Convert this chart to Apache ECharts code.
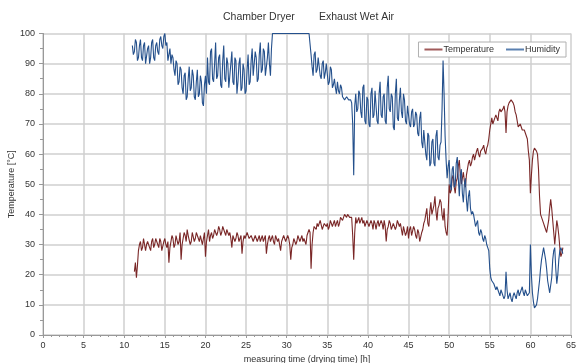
<!DOCTYPE html>
<html>
<head>
<meta charset="utf-8">
<script src="https://cdn.jsdelivr.net/npm/echarts@6/dist/echarts.min.js"></script>
<style>
html,body{margin:0;padding:0;background:#fff;}
#chart{width:576px;height:363px;}
</style>
</head>
<body>
<div id="chart"></div>
<script>
// sampling grid of the measurement (hours): 8 readings per hour from 11.0 h
const startHour = 11;
const stepHours = 0.125;

const titleLeft = "Chamber Dryer";
const titleRight = "Exhaust Wet Air";
const xAxisName = "measuring time (drying time) [h]";
const yAxisName = "Temperature [°C]";
const seriesNames = ["Temperature", "Humidity"];

// Humidity, one row per hour (11 h ... 63 h), last value at 64 h
const humidity = [
  96, 93, 94, 98, 97, 91, 92, 96,
  98, 92, 91, 96, 97, 90, 90, 95,
  96, 90, 92, 97, 98, 92, 91, 96,
  97, 94, 93, 98, 99, 96, 95, 99,
  100, 96, 97, 91, 93, 95, 90, 93,
  92, 88, 86, 91, 90, 83, 84, 89,
  88, 82, 80, 86, 87, 78, 79, 85,
  89, 81, 82, 88, 86, 79, 78, 84,
  88, 79, 80, 86, 84, 77, 76, 83,
  86, 80, 92, 84, 83, 94, 95, 85,
  84, 90, 97, 85, 86, 92, 93, 83,
  82, 91, 96, 85, 84, 92, 90, 82,
  86, 90, 94, 84, 83, 92, 91, 80,
  84, 90, 92, 81, 82, 90, 88, 80,
  81, 88, 93, 83, 84, 91, 95, 86,
  86, 94, 92, 84, 85, 93, 97, 87,
  88, 95, 94, 86, 86, 92, 97, 90,
  86, 95, 100, 100, 100, 100, 100, 100,
  100, 100, 100, 100, 100, 100, 100, 100,
  100, 100, 100, 100, 100, 100, 100, 100,
  100, 100, 100, 100, 100, 100, 100, 100,
  100, 100, 100, 100, 100, 100, 100, 100,
  93, 89, 86, 93, 94, 87, 88, 92,
  92, 86, 85, 90, 91, 85, 87, 90,
  90, 83, 84, 89, 88, 82, 83, 85,
  82, 80, 84, 81, 80, 83, 82, 79,
  79, 78, 78, 79, 79, 78, 78, 78,
  77, 70, 53, 76, 80, 74, 75, 81,
  80, 74, 72, 82, 83, 71, 70, 79,
  78, 70, 69, 80, 82, 72, 73, 81,
  76, 71, 70, 80, 84, 73, 72, 79,
  80, 71, 70, 82, 86, 75, 74, 80,
  79, 69, 68, 80, 85, 72, 71, 78,
  82, 74, 72, 80, 78, 71, 70, 76,
  76, 70, 69, 74, 75, 69, 70, 74,
  73, 67, 66, 72, 74, 64, 62, 68,
  68, 60, 58, 67, 66, 56, 57, 64,
  65, 57, 56, 66, 68, 59, 58, 63,
  64, 75, 91, 80, 66, 58, 52, 56,
  58, 50, 48, 55, 56, 49, 50, 57,
  59, 52, 46, 53, 55, 47, 44, 50,
  52, 45, 41, 46, 48, 42, 40, 41,
  40, 38, 36, 37, 38, 34, 33, 35,
  34, 32, 31, 33, 32, 30, 29, 28,
  22, 19, 18, 18, 17, 16, 15, 16,
  16, 14, 13, 15, 14, 13, 12, 13,
  21, 15, 12, 13, 14, 12, 11, 13,
  14, 13, 12, 14, 15, 13, 13, 15,
  16, 14, 13, 15, 14, 13, 13, 14,
  30, 20, 14, 11, 9, 9, 10, 12,
  15, 18, 22, 25, 27, 29, 29, 25,
  22, 18, 16, 14, 14, 19, 25, 28,
  29, 22, 17, 20, 25, 28, 29, 28,
  27
];

// Temperature, same sampling grid
const temperature = [
  null, null, 21, 24, 19, 23, 28, 30,
  31, 28, 29, 32, 32, 28, 30, 31,
  31, 29, 28, 31, 32, 29, 30, 32,
  32, 30, 29, 32, 31, 28, 28, 31,
  32, 30, 29, 31, 24, 29, 31, 33,
  32, 29, 30, 33, 33, 30, 31, 34,
  25, 30, 32, 34, 33, 31, 35, 33,
  33, 30, 31, 34, 34, 31, 32, 34,
  34, 32, 31, 33, 33, 30, 32, 34,
  26, 31, 33, 35, 31, 33, 34, 32,
  33, 35, 35, 33, 34, 36, 35, 33,
  34, 36, 36, 34, 33, 35, 35, 33,
  34, 32, 29, 33, 33, 31, 32, 34,
  33, 31, 31, 33, 27, 31, 33, 32,
  32, 34, 34, 32, 32, 33, 33, 31,
  31, 33, 33, 31, 32, 33, 31, 32,
  33, 31, 32, 33, 27, 30, 32, 33,
  31, 32, 33, 31, 30, 33, 32, 31,
  32, 30, 28, 31, 31, 33, 33, 31,
  31, 33, 32, 30, 25, 29, 30, 32,
  32, 30, 31, 33, 33, 31, 32, 33,
  31, 32, 32, 30, 33, 34, 35, 34,
  22, 30, 34, 36, 36, 35, 37, 36,
  36, 38, 38, 35, 35, 37, 37, 36,
  37, 35, 36, 38, 38, 36, 37, 38,
  36, 37, 38, 36, 37, 39, 39, 38,
  38, 40, 40, 39, 40, 40, 39, 39,
  39, 33, 25, 34, 39, 37, 38, 39,
  37, 38, 39, 37, 38, 36, 36, 38,
  38, 36, 36, 38, 37, 35, 38, 37,
  35, 37, 38, 36, 36, 38, 37, 35,
  38, 36, 31, 35, 36, 38, 37, 35,
  35, 37, 37, 35, 36, 38, 38, 36,
  37, 35, 33, 36, 36, 33, 34, 36,
  32, 35, 36, 33, 33, 36, 35, 33,
  32, 35, 34, 31, 31, 34, 35, 37,
  38, 40, 42, 37, 36, 41, 44, 40,
  40, 43, 46, 41, 38, 42, 43, 45,
  44, 40, 38, 42, 36, 34, 33, 40,
  50, 47, 48, 52, 53, 49, 47, 51,
  52, 56, 58, 53, 50, 52, 54, 51,
  49, 53, 55, 57, 58, 56, 57, 59,
  60, 58, 58, 61, 62, 60, 59, 61,
  61, 62, 63, 61, 60, 62, 63, 65,
  68, 70, 72, 70, 70, 72, 73, 72,
  71, 74, 75, 74, 74, 75, 76, 74,
  67, 74, 76, 77, 77, 78, 78, 77,
  76, 74, 73, 71, 69, 69, 70, 69,
  68, 68, 68, 67, 67, 65, 61, 58,
  47, 53, 58, 61, 62, 62, 61, 60,
  55, 46, 40, 39, 39, 37, 36, 35,
  34, 36, 38, 42, 45, 42, 38, 34,
  30, 34, 38, 36, 33, 29, 26, 27,
  29
];

function toPairs(vals) {
  return vals.map((v, i) => [startHour + i * stepHours, v]);
}

const chart = echarts.init(document.getElementById('chart'), null, {renderer: 'canvas'});
const font = 'Liberation Sans, Arial, sans-serif';
chart.setOption({
  animation: false,
  backgroundColor: '#ffffff',
  title: [
    {text: titleLeft, left: 218, top: 7, textStyle: {fontFamily: font, fontSize: 10.5, fontWeight: 'normal', color: '#333'}},
    {text: titleRight, left: 314, top: 7, textStyle: {fontFamily: font, fontSize: 10.5, fontWeight: 'normal', color: '#333'}}
  ],
  legend: {
    right: 10, top: 42,
    data: seriesNames,
    backgroundColor: '#fff',
    borderColor: '#b0b0b0', borderWidth: 1, borderRadius: 0,
    padding: [3, 6, 3, 6],
    itemGap: 12, itemWidth: 18, itemHeight: 2,
    icon: 'rect',
    textStyle: {fontFamily: font, fontSize: 9, color: '#333', padding: [0, 0, 0, -4]}
  },
  grid: {left: 43, right: 5, top: 33.5, bottom: 28, containLabel: false, outerBoundsMode: 'none'},
  xAxis: {
    type: 'value', min: 0, max: 65, interval: 5,
    name: xAxisName, nameLocation: 'middle', nameGap: 20, nameMoveOverlap: false,
    nameTextStyle: {fontFamily: font, fontSize: 9, color: '#333'},
    axisLine: {lineStyle: {color: '#999', width: 1}},
    axisTick: {show: true, length: 3, lineStyle: {color: '#999'}},
    minorTick: {show: true, splitNumber: 5, length: 2, lineStyle: {color: '#999'}},
    axisLabel: {fontFamily: font, fontSize: 9, color: '#333', margin: 6},
    splitLine: {show: true, lineStyle: {color: '#cfcfcf', width: 1.5}}
  },
  yAxis: {
    type: 'value', min: 0, max: 100, interval: 10,
    name: yAxisName, nameLocation: 'middle', nameGap: 27, nameMoveOverlap: false,
    nameTextStyle: {fontFamily: font, fontSize: 9, color: '#333'},
    axisLine: {show: true, lineStyle: {color: '#999', width: 1}},
    axisTick: {show: true, length: 4, lineStyle: {color: '#999'}},
    minorTick: {show: true, splitNumber: 2, length: 3, lineStyle: {color: '#999'}},
    axisLabel: {fontFamily: font, fontSize: 9, color: '#333', margin: 8},
    splitLine: {show: true, lineStyle: {color: '#cfcfcf', width: 1.5}}
  },
  series: [
    {
      name: seriesNames[0], type: 'line', data: toPairs(temperature),
      showSymbol: false, connectNulls: false,
      lineStyle: {color: '#7a2727', width: 1.1},
      itemStyle: {color: '#a05a5a'}
    },
    {
      name: seriesNames[1], type: 'line', data: toPairs(humidity),
      showSymbol: false, connectNulls: false,
      lineStyle: {color: '#24508c', width: 1.1},
      itemStyle: {color: '#5a80b0'}
    }
  ]
});
</script>
</body>
</html>
